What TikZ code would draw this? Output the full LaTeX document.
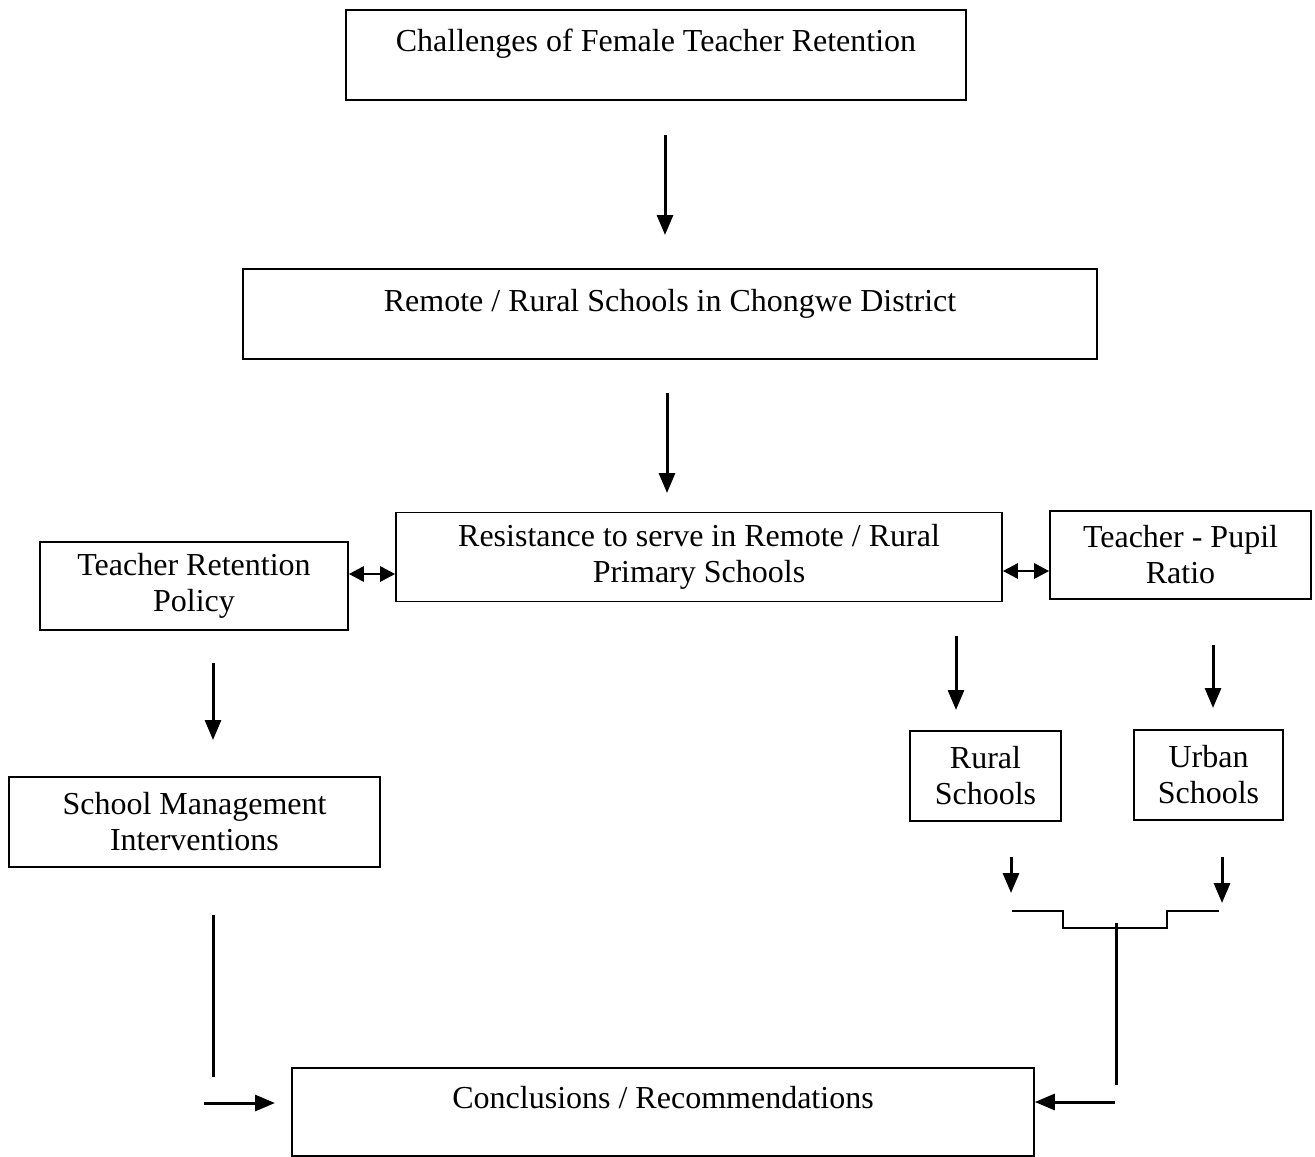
\documentclass[tikz,border=0pt]{standalone}
\usepackage{fontspec}
\setmainfont{Liberation Serif}
\usetikzlibrary{arrows.meta}
\tikzset{
	box/.style={draw, line width=0.8pt, inner sep=0pt, align=center, font=\fontsize{16}{18}\selectfont},
	arr/.style={line width=1.5pt, -{Triangle[length=10pt,width=8pt]}},
	dbl/.style={line width=1.4pt, {Triangle[length=7.5pt,width=7.5pt]}-{Triangle[length=7.5pt,width=7.5pt]}},
}
\begin{document}
\begin{tikzpicture}[x=0.5pt,y=-0.5pt]
		\useasboundingbox (0,0) rectangle (1315,1156);
		% boxes
		\node[box, anchor=north, minimum width=310pt, text height=21pt, text depth=24pt] (chal) at (656,9) {Challenges of Female Teacher Retention};
		\node[box, anchor=north, minimum width=427pt, text height=21.5pt, text depth=23.5pt] (rem) at (670,268) {Remote / Rural Schools in Chongwe District};
		\node[box, minimum width=303pt, minimum height=44.5pt] (res) at (699,557) {Resistance to serve in Remote / Rural\\Primary Schools};
		\node[box, minimum width=154pt, minimum height=44pt] (pol) at (194,586) {Teacher Retention\\Policy};
		\node[box, minimum width=130.5pt, minimum height=44pt] (tpr) at (1180.5,555) {Teacher - Pupil\\Ratio};
		\node[box, minimum width=185.5pt, minimum height=45pt] (smi) at (194.5,822) {School Management\\Interventions};
		\node[box, minimum width=75.5pt, minimum height=45pt] (rur) at (985.5,776) {Rural\\Schools};
		\node[box, minimum width=74.5pt, minimum height=45pt] (urb) at (1208.5,775) {Urban\\Schools};
		\node[box, anchor=north, minimum width=371pt, text height=20.5pt, text depth=23.5pt] (con) at (663,1067) {Conclusions / Recommendations};
		% free ends
		\coordinate (A1) at (665,135);
		\coordinate (A2) at (667,393);
		\coordinate (A3) at (213,663);
		\coordinate (A4) at (956,636);
		\coordinate (A5) at (1213,645);
		\coordinate (A6) at (1011,857);
		\coordinate (A7) at (1222,857);
		\coordinate (L1) at (213,915);
		\coordinate (L2) at (204,1103);
		\coordinate (S1) at (1116,923);
		\coordinate (D1) at (0,574);
		\coordinate (D2) at (0,571);
		% arrows
		\draw[arr] (A1) -- ++(0,100);
		\draw[arr] (A2) -- ++(0,100);
		\draw[arr] (A3) -- ++(0,77);
		\draw[arr] (A4) -- ++(0,74);
		\draw[arr] (A5) -- ++(0,63);
		\draw[arr] (A6) -- ++(0,36);
		\draw[arr] (A7) -- ++(0,46);
		\draw[dbl] (pol.east |- D1) -- (res.west |- D1);
		\draw[dbl] (res.east |- D2) -- (tpr.west |- D2);
		\draw[line width=0.9pt] (1012,911) -- (1063,911) -- (1063,928) -- (1167,928) -- (1167,911) -- (1219,911);
		\draw[line width=1.5pt] (S1) -- ++(0,162);
		\draw[arr] (1115,1102) -- (con.east |- 0,1102);
		\draw[line width=1.5pt] (L1) -- ++(0,162);
		\draw[arr] (L2) -- ++(71,0);
		\end{tikzpicture}
\end{document}
